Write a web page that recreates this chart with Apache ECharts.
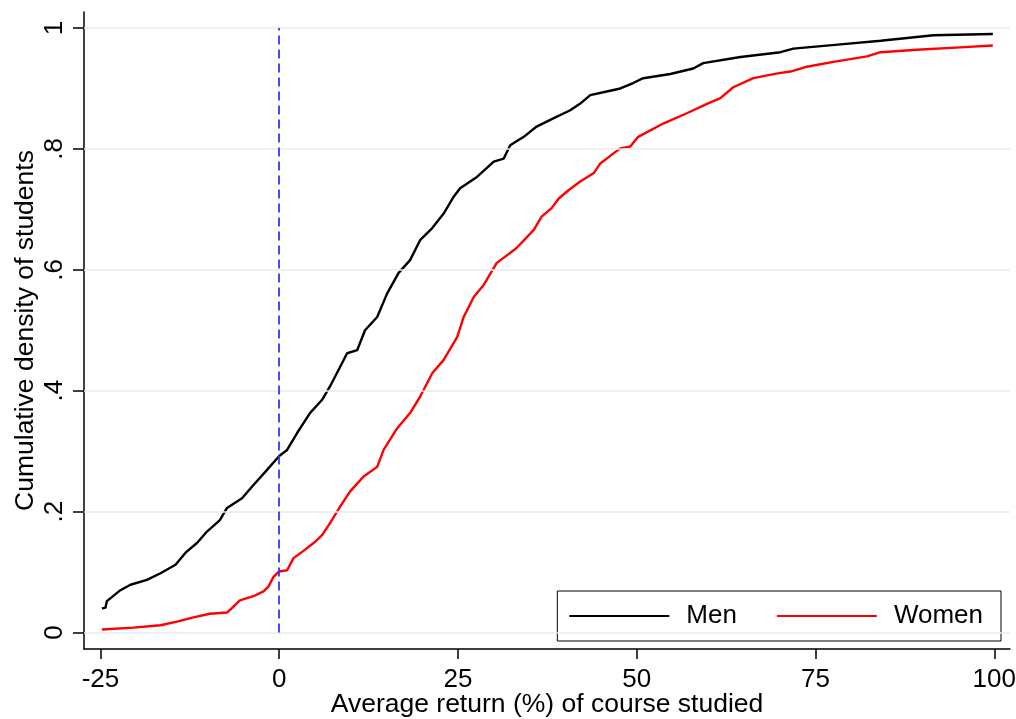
<!DOCTYPE html>
<html>
<head>
<meta charset="utf-8">
<script src="https://cdn.jsdelivr.net/npm/echarts@6/dist/echarts.min.js"></script>
<style>
  html, body { margin: 0; padding: 0; background: #fff; }
  #chart { width: 1016px; height: 719px; }
</style>
</head>
<body>
<div id="chart"></div>
<script>
// tick positions and labels
var xTicks = [-25, 0, 25, 50, 75, 100];
var yTicks = [0, 0.2, 0.4, 0.6, 0.8, 1];
var yTickLabels = ['0', '.2', '.4', '.6', '.8', '1'];

// cumulative distribution, men
var menX = [-24.8, -24.3, -24.1, -22.2, -20.8, -18.5, -16.6, -14.5, -13.1, -11.5, -10.1, -8.3, -7.3, -5.2, -3.6, -1.7, 0.0, 1.1, 2.5, 4.3, 6.0, 7.1, 9.5, 10.9, 12.0, 13.7, 15.1, 16.7, 18.3, 19.7, 21.4, 23.0, 24.4, 25.3, 27.7, 30.0, 31.4, 32.3, 34.2, 36.0, 38.4, 40.7, 42.1, 43.5, 45.8, 47.7, 49.5, 50.9, 54.7, 57.9, 59.3, 64.5, 70.1, 71.9, 78.5, 84.1, 91.5, 99.8];
var menY = [0.040, 0.041, 0.052, 0.070, 0.079, 0.087, 0.098, 0.112, 0.132, 0.148, 0.167, 0.186, 0.206, 0.222, 0.244, 0.269, 0.292, 0.302, 0.330, 0.363, 0.385, 0.407, 0.462, 0.467, 0.500, 0.522, 0.561, 0.595, 0.616, 0.649, 0.669, 0.693, 0.721, 0.735, 0.754, 0.779, 0.784, 0.806, 0.820, 0.837, 0.851, 0.864, 0.875, 0.889, 0.895, 0.900, 0.909, 0.917, 0.924, 0.933, 0.942, 0.952, 0.960, 0.966, 0.973, 0.979, 0.988, 0.990];

// cumulative distribution, women
var womenX = [-24.8, -20.4, -16.6, -14.3, -12.0, -9.7, -7.3, -6.4, -5.5, -3.6, -2.2, -1.5, -0.8, 0.0, 1.1, 2.0, 3.4, 4.8, 6.0, 7.1, 8.5, 9.9, 11.8, 13.7, 14.6, 16.5, 18.3, 19.7, 21.4, 23.0, 24.9, 25.8, 27.2, 28.6, 30.4, 33.2, 35.6, 36.7, 38.1, 39.1, 40.5, 42.1, 44.0, 44.9, 46.8, 47.7, 49.1, 50.2, 53.7, 57.0, 59.9, 61.7, 63.5, 66.3, 69.7, 71.5, 73.8, 77.5, 82.2, 84.1, 89.2, 95.2, 99.8];
var womenY = [0.005, 0.008, 0.012, 0.018, 0.025, 0.031, 0.033, 0.043, 0.053, 0.060, 0.068, 0.076, 0.092, 0.101, 0.103, 0.123, 0.135, 0.148, 0.161, 0.181, 0.208, 0.233, 0.258, 0.274, 0.302, 0.338, 0.363, 0.390, 0.429, 0.451, 0.489, 0.522, 0.555, 0.575, 0.611, 0.636, 0.666, 0.688, 0.702, 0.718, 0.732, 0.746, 0.760, 0.776, 0.793, 0.801, 0.804, 0.820, 0.842, 0.859, 0.875, 0.884, 0.902, 0.917, 0.925, 0.928, 0.936, 0.944, 0.953, 0.960, 0.964, 0.968, 0.971];

var refX = 0; // vertical reference line

function pairs(xs, ys) {
  var out = [];
  for (var i = 0; i < xs.length; i++) {
    out.push([xs[i], ys[i]]);
  }
  return out;
}

var font = '"Liberation Sans", Arial, Helvetica, sans-serif';

var chart = echarts.init(document.getElementById('chart'), null, { renderer: 'canvas' });

var option = {
  animation: false,
  backgroundColor: '#ffffff',
  textStyle: { fontFamily: font },
  grid: { left: 84, right: 6, top: 12, bottom: 70, containLabel: false, outerBoundsMode: 'none' },
  legend: {
    data: ['Men', 'Women'],
    right: 15,
    top: 591,
    orient: 'horizontal',
    itemWidth: 100,
    itemHeight: 14,
    itemGap: 39,
    padding: [12, 18, 12, 11],
    borderColor: '#000',
    borderWidth: 1,
    selectedMode: false,
    itemStyle: { opacity: 0 },
    textStyle: { fontFamily: font, fontSize: 26, color: '#000', padding: [0, 0, 0, 12] }
  },
  xAxis: {
    type: 'value',
    min: -27.3,
    max: 102.2,
    name: 'Average return (%) of course studied',
    nameLocation: 'middle',
    nameGap: 42,
    nameMoveOverlap: false,
    nameTextStyle: { fontFamily: font, fontSize: 26.5, color: '#000' },
    axisLine: { show: true, onZero: false, lineStyle: { color: '#000', width: 1.5 } },
    axisTick: { show: true, length: 10, customValues: xTicks, lineStyle: { color: '#000', width: 1.5 } },
    axisLabel: { customValues: xTicks, fontFamily: font, fontSize: 26, color: '#000', margin: 18 },
    splitLine: { show: false }
  },
  yAxis: {
    type: 'value',
    min: -0.0273,
    max: 1.0265,
    name: 'Cumulative density of students',
    nameLocation: 'middle',
    nameGap: 45,
    nameMoveOverlap: false,
    nameTextStyle: { fontFamily: font, fontSize: 26.5, color: '#000' },
    axisLine: { show: true, onZero: false, lineStyle: { color: '#000', width: 1.5 } },
    axisTick: { show: true, length: 11, customValues: yTicks, lineStyle: { color: '#000', width: 1.5 } },
    axisLabel: {
      customValues: yTicks,
      rotate: 90,
      fontFamily: font,
      fontSize: 26,
      color: '#000',
      margin: 16,
      formatter: function (v) {
        for (var i = 0; i < yTicks.length; i++) {
          if (Math.abs(yTicks[i] - v) < 1e-6) return yTickLabels[i];
        }
        return '';
      }
    },
    splitLine: { show: false }
  },
  series: [
    {
      name: 'grid',
      type: 'line',
      data: [],
      z: 1,
      silent: true,
      markLine: {
        silent: true,
        symbol: 'none',
        label: { show: false },
        lineStyle: { color: '#e6eef0', width: 1.6, type: 'solid' },
        data: yTicks.map(function (v) { return { yAxis: v }; })
      }
    },
    {
      name: 'ref',
      type: 'line',
      data: [],
      z: 3,
      silent: true,
      markLine: {
        silent: true,
        symbol: 'none',
        label: { show: false },
        lineStyle: { color: '#3535ff', width: 1.8, type: [9, 5] },
        data: [[{ coord: [refX, yTicks[0]] }, { coord: [refX, yTicks[yTicks.length - 1]] }]]
      }
    },
    {
      name: 'Men',
      type: 'line',
      z: 4,
      showSymbol: false,
      symbol: 'none',
      data: pairs(menX, menY),
      lineStyle: { color: '#000', width: 2.4 },
      itemStyle: { color: '#000' }
    },
    {
      name: 'Women',
      type: 'line',
      z: 4,
      showSymbol: false,
      symbol: 'none',
      data: pairs(womenX, womenY),
      lineStyle: { color: '#ff0000', width: 2.4 },
      itemStyle: { color: '#ff0000' }
    }
  ]
};

chart.setOption(option);
</script>
</body>
</html>
